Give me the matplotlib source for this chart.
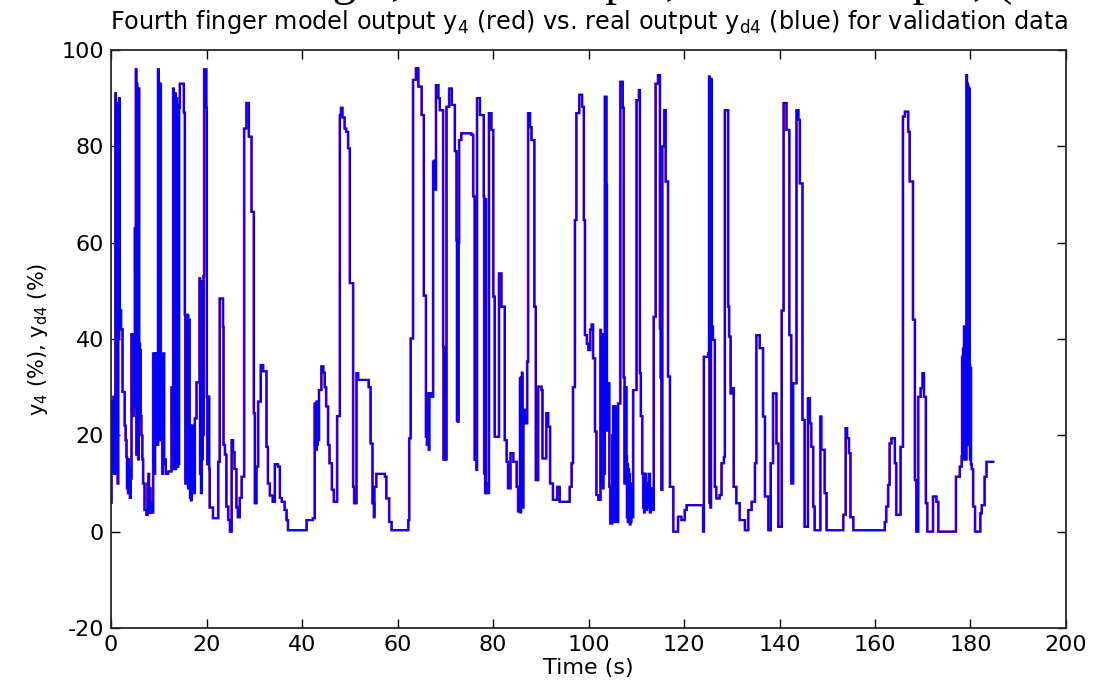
import matplotlib
matplotlib.use('Agg')
import matplotlib.pyplot as plt
import numpy as np

plt.rcParams['font.family'] = ['DejaVu Sans']
plt.rcParams['mathtext.fontset'] = 'dejavusans'
plt.rcParams['axes.unicode_minus'] = False

# ---- data: change times (s) and held levels (%) of the real output y_d4 ----
t_a = [0.0, 0.15, 0.25, 0.35, 0.45, 0.55, 0.65, 0.75, 0.85, 0.95, 1.05, 1.15, 1.25, 1.35,
       1.45, 1.55, 1.65, 1.75, 1.85, 2.15, 2.45, 2.9, 3.1, 3.28, 3.4, 3.5, 3.6, 3.7, 3.8,
       3.9, 4.0, 4.15, 4.33, 4.43, 4.53, 4.63, 4.73, 4.83, 4.93, 5.03, 5.12, 5.24, 5.34,
       5.44, 5.54, 5.64, 5.74, 5.84, 5.94, 6.1, 6.25, 6.4, 6.6, 6.77, 7.05, 7.45, 7.7, 7.8,
       7.9, 8.0, 8.15, 8.3, 8.5, 8.7, 8.87, 8.97, 9.07, 9.17, 9.27, 9.37, 9.5, 9.65, 9.9,
       10.0, 10.1, 10.2, 10.3, 10.47, 10.57, 10.67, 10.77, 10.87, 10.97, 11.07, 11.17, 11.3,
       11.5, 12.0, 12.7, 13.06, 13.16, 13.26, 13.36, 13.46, 13.56, 13.66, 13.9, 14.0, 14.1,
       14.2, 14.3, 14.45, 15.29, 15.5, 15.6, 15.7, 15.8, 15.9, 16.0, 16.1, 16.2, 16.3, 16.5,
       16.6, 16.7, 16.8, 16.9, 17.0, 17.1, 17.3, 17.6, 17.94, 18.6, 18.7, 18.8, 18.9, 19.0,
       19.1, 19.2, 19.3, 19.4, 19.55, 20.0, 20.1, 20.2, 20.3, 20.4, 20.5, 20.6, 20.7, 21.4,
       22.5, 22.8, 23.5, 23.6, 23.9, 24.2, 24.6, 24.95, 25.3, 25.6, 25.9, 26.3, 26.6, 27.0,
       27.4, 27.93, 28.4, 28.9, 29.46, 29.95, 30.16, 30.5, 30.86, 31.4, 31.9, 32.6, 32.9,
       33.3, 33.9, 34.35, 35.0, 35.4, 35.8, 36.4, 36.8, 37.1, 41.0, 42.3, 42.7, 42.8, 42.9,
       43.0, 43.1, 43.2, 43.3, 43.4, 43.6, 44.1, 44.5, 44.8, 45.1, 45.5, 45.8, 46.3, 46.7,
       47.4]
y_a = [6, 27, 13, 26, 12, 28, 15, 25, 12, 91, 42, 89, 20, 88,
       10, 89, 40, 90, 46, 42, 29, 22, 19, 15.5, 9, 14, 8, 15, 9,
       13, 7, 11, 41, 25, 40, 24, 41, 26, 40, 63, 54, 96, 16,
       93, 20, 92, 15, 92, 39, 37.7, 24, 20, 15, 10, 4.5, 3.5, 10, 4,
       12, 4, 9, 4, 6, 4, 37, 14, 36, 12, 37, 20, 37, 18, 96,
       20, 93, 19, 93, 37, 22, 36, 12, 35, 14, 37, 15, 15,
       12, 12.5, 30, 92, 13, 91, 14, 91, 13, 90, 88.6, 13.5, 88,
       14, 88, 93, 87, 45, 10, 45, 12, 44, 10, 45, 9, 44, 22,
       7, 22, 6.5, 20, 10, 22, 8, 23.5, 31, 52.6, 12, 52, 8, 50,
       15, 52, 20, 53, 96, 88, 28, 14, 28, 16, 28, 13, 5, 2.8,
       14.5, 48.4, 42.5, 18, 16, 5.2, 2.4, 0, 19, 16.5, 13, 5, 3, 7,
       11.4, 83.7, 89, 82, 66.4, 24.6, 5.9, 13.5, 27, 34.6, 33.3, 17.6, 10,
       7.5, 6.2, 14, 13.5, 7, 6.2, 4.5, 2.4, 0.3, 2.4, 2.8, 26.6, 18, 26,
       17, 27, 18, 26, 19, 29.4, 34.3, 33, 30, 26, 18, 14.2, 8.7, 6.2,
       24]

t_b = [47.96, 48.2, 48.5, 48.96, 49.3, 49.7, 50.05, 50.75, 50.96, 51.45, 51.8, 54.0, 54.4,
       54.8, 55.1, 55.2, 55.6, 57.4, 57.7, 58.3, 58.8, 62.3, 62.5, 62.8, 63.3, 63.9, 64.4,
       65.1, 65.55, 66.0, 66.1, 66.2, 66.3, 66.4, 66.5, 66.6, 66.7, 67.2, 67.5, 67.6, 67.7,
       67.8, 68.1, 68.6, 68.9, 69.6, 69.7, 69.8, 69.9, 70.0, 70.1, 70.3, 70.86, 71.4, 72.05,
       72.4, 72.5, 72.6, 72.7, 72.8, 72.95, 73.4, 75.5, 75.9, 76.2, 76.6, 76.7, 77.3, 78.1,
       78.2, 78.3, 78.4, 78.5, 78.6, 78.7, 79.2, 79.7, 80.1, 80.4, 81.3, 81.8, 82.5, 82.9,
       83.2, 83.7, 84.3, 85.0, 85.3, 85.7, 85.8, 85.9, 86.0, 86.1, 86.2, 86.4, 86.7, 87.2,
       87.4, 87.8, 88.1, 88.7, 89.0, 89.5, 90.2, 90.4, 91.2, 91.6, 92.0, 92.6, 93.5, 94.0,
       96.1, 96.5, 96.8, 97.2, 97.5, 98.1, 98.7]
y_b = [86.5, 88, 86, 83.7, 83, 79.6, 51.6, 9.3, 5.9, 32.9, 31.5, 30, 18.3,
       5.9, 3, 9.3, 12, 11.4, 6.9, 2, 0.3, 2.4, 19.4, 40.1, 93.8, 96.2, 92.4,
       86.5, 49, 19.7, 26, 18, 26, 19, 28.7, 17, 28.7, 28, 76.8, 71.3, 77,
       71, 92.7, 90, 87.5, 38.4, 15, 38, 14.9, 38, 15, 88.2, 92, 88.6, 79,
       60.5, 23, 60, 22.8, 60, 81.3, 82.7, 82.4, 69.6, 14.9, 12.8, 90, 86.5, 69.6,
       12.1, 69, 8, 69, 10, 8, 86.9, 83.4, 48.8, 19.7, 53.6, 46.7, 19, 14.5,
       9, 16.3, 14.5, 9.3, 4.2, 31.8, 4, 32, 6, 33, 5, 25.3, 22.5, 35.3,
       86.9, 84, 81.3, 46.7, 10.7, 30.1, 29.4, 15.2, 24.6, 21.8, 10, 6.6, 9.3, 6.2,
       9.3, 14.2, 30, 64.7, 86.9, 90.7, 88.2]

t_c = [99.06, 99.3, 99.7, 100.0, 100.4, 100.7, 101.0, 101.4, 101.7, 102.1, 102.55, 102.65,
       102.75, 102.85, 102.95, 103.05, 103.15, 103.3, 103.46, 103.8, 103.9, 104.1, 104.4,
       104.6, 105.0, 105.1, 105.2, 105.3, 105.4, 105.5, 105.6, 105.8, 106.25, 106.7, 107.2,
       107.4, 107.6, 107.7, 108.0, 108.1, 108.2, 108.3, 108.4, 108.5, 108.6, 108.7, 108.8,
       108.9, 109.0, 109.2, 109.4, 110.1, 110.6, 110.8, 111.0, 111.3, 111.5, 111.6, 111.7,
       111.8, 111.9, 112.0, 112.1, 112.3, 112.5, 112.7, 112.9, 113.1, 113.3, 113.7, 114.1,
       114.6, 115.0, 115.15, 115.3, 115.5, 115.9, 116.2, 116.7, 117.1, 117.8, 118.8, 119.5,
       120.2, 120.6, 124.05, 124.2, 125.1, 125.3, 125.4, 125.5, 125.6, 125.7, 125.8, 126.1,
       126.5, 126.8, 127.5, 127.9, 128.4, 128.6, 129.3, 129.5, 129.8, 130.3, 130.45, 131.0,
       131.7, 132.8, 133.5, 134.2, 134.9, 135.2, 135.9, 136.6, 137.0, 137.7, 138.2, 138.7,
       139.4, 139.8, 140.5, 140.9, 141.5, 142.1, 142.5, 142.9, 143.6, 144.0, 144.3, 144.85,
       145.3, 146.0, 146.4, 146.7, 147.1, 147.4, 148.6, 148.8, 149.5, 149.9]
y_c = [64.7, 40.8, 39, 37.7, 42, 43, 36, 20.8, 7.6, 6.6, 41.9, 10,
       41, 12, 40, 9, 41, 12, 90.3, 72, 21, 30.8, 9.3,
       1.7, 20, 3, 26, 2, 20, 5, 26, 2, 26.6, 93.4, 88,
       32, 10, 30, 15.6, 3, 14, 2, 13, 3, 12, 1.5, 10,
       2, 9, 3, 29.4, 89.6, 91.7, 32.9, 24, 12, 5, 12, 4,
       11, 5, 12, 4.5, 10, 5, 12, 4, 9, 4.5, 44.6, 93,
       94.8, 42.2, 32, 8.7, 80, 87.5, 72.7, 32.2, 9.3, 0, 3.1, 2.4,
       4.5, 5.5, 0, 36.3, 37, 94.5, 6, 94, 5, 94, 42.6, 39.8,
       9.3, 6.9, 7.6, 14.2, 15.5, 87.5, 46.7, 40.5, 28.7, 29.8, 9.3, 5.9,
       2.4, 0.3, 4.5, 6.2, 14.2, 40.8, 38.1, 23.9, 7.3, 0.3, 14.2, 28.7,
       18.3, 1, 45.9, 89, 83.4, 40.8, 10, 30.8, 87.5, 85.5, 72.3, 23.2,
       1, 27.7, 22.5, 17.6, 5.2, 0.3, 23.9, 17, 8, 0.3]

t_d = [153.4, 153.9, 154.2, 154.6, 154.9, 155.5, 162.1, 162.4, 162.8, 163.1, 163.5, 164.2,
       164.5, 165.4, 165.9, 166.3, 167.0, 167.3, 168.0, 168.4, 168.7, 169.1, 169.6, 170.0,
       170.3, 170.7, 171.0, 172.2, 172.9, 173.3, 177.0, 177.8, 178.2, 178.3, 178.4, 178.5,
       178.6, 178.7, 178.8, 178.9, 179.0, 179.2, 179.3, 179.4, 179.5, 179.6, 179.7, 179.85,
       179.95, 180.05, 180.15, 180.3, 180.6, 181.0, 182.1, 182.4, 183.0, 183.4, 184.8]
y_d = [3.5, 21.5, 19.4, 16.3, 3, 0.3, 2, 5.2, 9.7, 18.3, 19.4, 14.2,
       3.5, 17.6, 86.2, 87.2, 83, 72.7, 44, 10.7, 0, 28, 29.8, 32.9,
       28, 5.9, 0, 7.3, 6.2, 0, 11.4, 13.5, 15.6, 36.3, 16, 38,
       15, 42.6, 17, 42, 15, 94.8, 20, 93, 92.4, 18, 92, 34.6,
       15, 34, 14, 13, 5.2, 0, 3.8, 5.5, 11.4, 14.5, 14.5]

time_s = np.array(t_a + t_b + t_c + t_d)
yd4 = np.array(y_a + y_b + y_c + y_d)
y4 = yd4.copy()            # model output follows the real output closely
model_lead_s = 0.1         # model output changes slightly ahead of the real one

x_ticks = list(range(0, 201, 20))
y_ticks = list(range(-20, 101, 20))

fig = plt.figure(figsize=(10.94, 6.84), dpi=100)
ax = fig.add_axes([0.1015, 0.0819, 0.8729, 0.845])

ax.step(time_s - model_lead_s, y4, where='post', color='#ff0000', lw=1.6,
        solid_joinstyle='miter')
ax.step(time_s, yd4, where='post', color='#0000ff', lw=1.5,
        solid_joinstyle='miter')

ax.set_xlim(0, 200)
ax.set_ylim(-20, 100)
ax.set_xticks(x_ticks)
ax.set_yticks(y_ticks)
ax.tick_params(direction='in', top=True, right=True, length=6.5, width=1.0,
               labelsize=16, pad=5, colors='#000000')
for s in ax.spines.values():
    s.set_linewidth(1.3)
    s.set_color('#262626')

ax.set_title(r'Fourth finger model output y$_4$ (red) vs. real output y$_{\mathrm{d4}}$ (blue) for validation data',
             fontsize=17.3, pad=15)
ax.set_xlabel('Time (s)', fontsize=16, labelpad=2)
ax.set_ylabel(r'y$_4$ (%), y$_{\mathrm{d4}}$ (%)', fontsize=15, labelpad=8)

# clipped caption text above the figure (only its lowest strokes remain visible)
fig.text(0.13, 0.993, 'Fourth finger, model output, and real output, (', family='Liberation Serif',
         fontsize=34, va='bottom', ha='left')

fig.savefig('out.png', dpi=100)
